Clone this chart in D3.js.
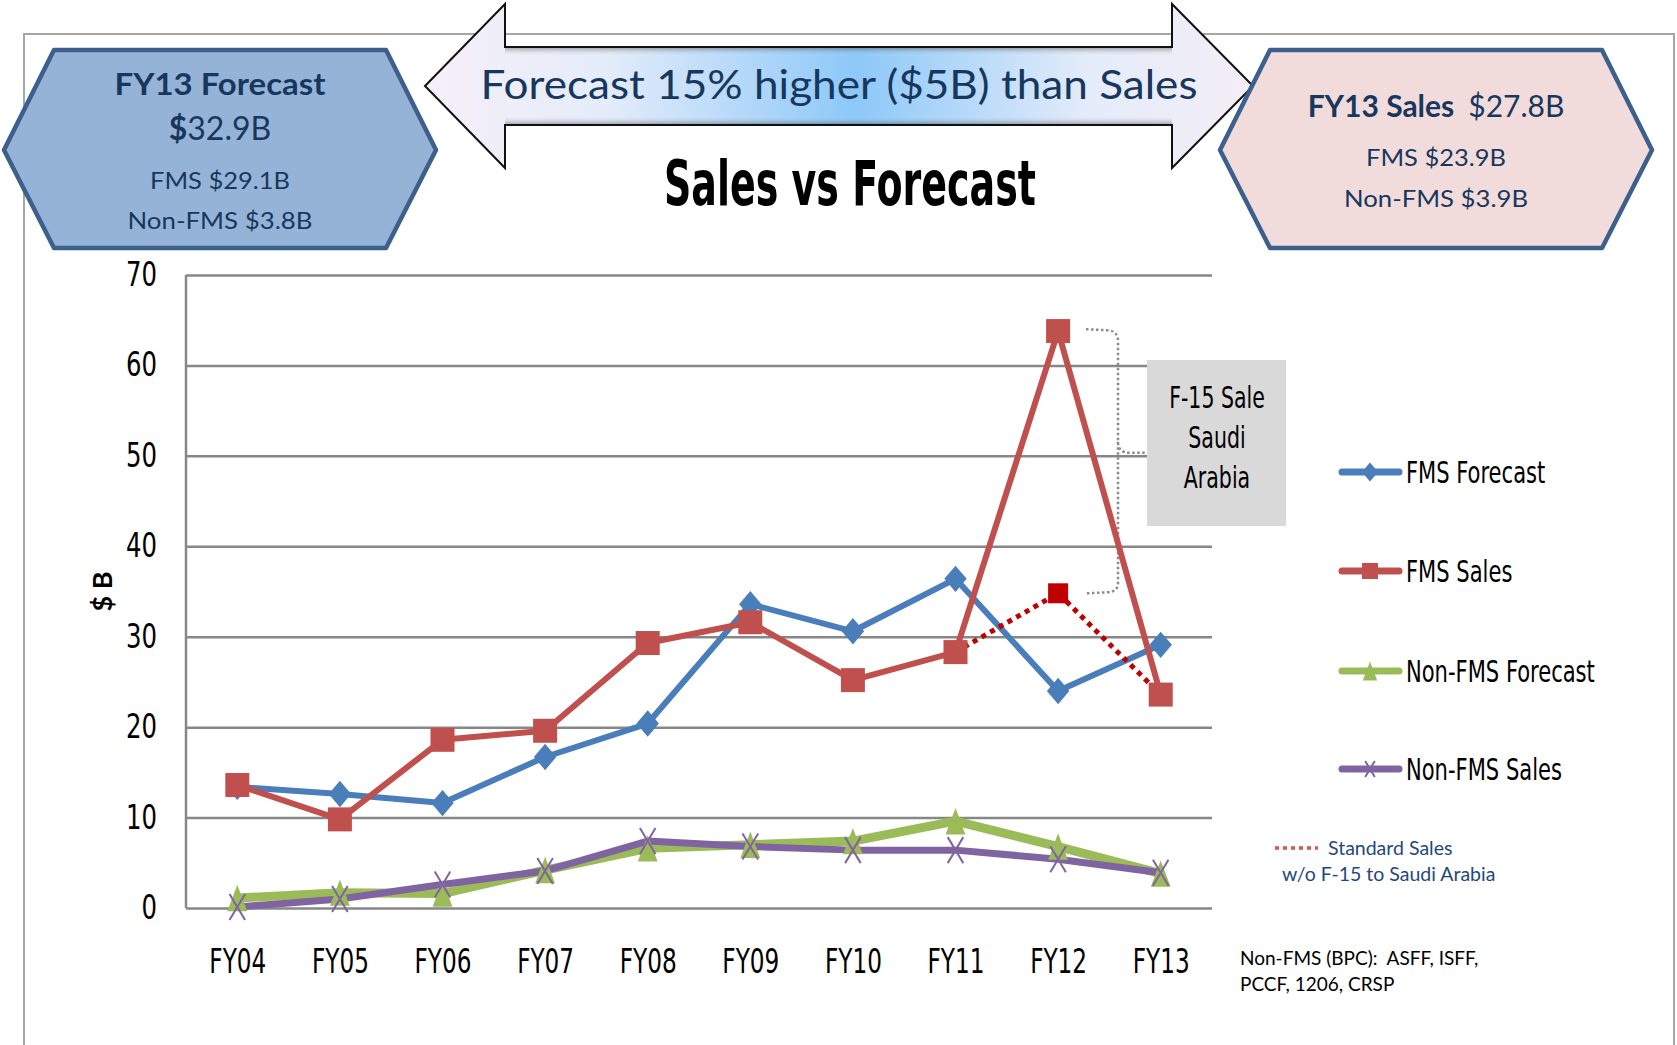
<!DOCTYPE html>
<html>
<head>
<meta charset="utf-8">
<script src="https://cdn.jsdelivr.net/npm/d3@7"></script>
<style>
  body { margin: 0; background: #fff; }
  svg { display: block; }
</style>
</head>
<body>
<div id="chart"></div>
<script>
// Chart data
const categories = ["FY04", "FY05", "FY06", "FY07", "FY08", "FY09", "FY10", "FY11", "FY12", "FY13"];
const fmsForecast = [13.4, 12.6, 11.6, 16.7, 20.4, 33.6, 30.6, 36.4, 24.0, 29.1];
const fmsSales = [13.6, 9.8, 18.6, 19.6, 29.3, 31.6, 25.2, 28.3, 63.8, 23.6];
const nonFmsForecast = [1.1, 1.7, 1.6, 4.2, 6.6, 7.0, 7.4, 9.6, 6.8, 3.8];
const nonFmsSales = [0.1, 1.0, 2.6, 4.1, 7.4, 6.8, 6.4, 6.4, 5.4, 3.9];
const standardCats = ["FY11", "FY12", "FY13"];
const standardSales = [28.3, 34.8, 23.6];
const yTicks = [0, 10, 20, 30, 40, 50, 60, 70];

const seriesNames = ["FMS Forecast", "FMS Sales", "Non-FMS Forecast", "Non-FMS Sales"];
const seriesValues = [fmsForecast, fmsSales, nonFmsForecast, nonFmsSales];
const seriesColors = ["#4a7ebb", "#c0504d", "#9bbb59", "#8064a2"];
const seriesSymbols = ["diamond", "square", "triangle", "cross"];

const NARROW = "'Liberation Sans Narrow', 'DejaVu Sans Condensed', sans-serif";
const SANS = "Lato, 'Open Sans', sans-serif";
const NAVY = "#17375e";

const W = 1677, H = 1045;
const svg = d3.select("#chart").append("svg")
  .attr("width", W)
  .attr("height", H);

// squeeze text horizontally to mimic the condensed slide font
function squeeze(sel, f) {
  sel.each(function() {
    const len = this.getComputedTextLength();
    d3.select(this).attr("textLength", len * f).attr("lengthAdjust", "spacingAndGlyphs");
  });
}

const defs = svg.append("defs");
const hGrad = defs.append("linearGradient").attr("id", "arrowFill")
  .attr("x1", "0").attr("x2", "1").attr("y1", "0").attr("y2", "0");
[["0%", "#f6f0f8"], ["22%", "#e4ecfa"], ["52%", "#8cc8f8"], ["80%", "#e4ecfa"], ["100%", "#f4eef6"]]
  .forEach(s => hGrad.append("stop").attr("offset", s[0]).attr("stop-color", s[1]));
const vGrad = defs.append("linearGradient").attr("id", "arrowBevel")
  .attr("x1", "0").attr("x2", "0").attr("y1", "0").attr("y2", "1");
[["0%", "#000", 0.35], ["12%", "#fff", 0.0], ["88%", "#fff", 0.0], ["100%", "#000", 0.35]]
  .forEach(s => vGrad.append("stop").attr("offset", s[0]).attr("stop-color", s[1]).attr("stop-opacity", s[2]));

// Outer frame
svg.append("path")
  .attr("d", `M24,${H} L24,34 L1674,34 L1674,${H}`)
  .attr("fill", "none")
  .attr("stroke", "#a6a6a6")
  .attr("stroke-width", 2);

// Double arrow
const arrowPts = [[425, 86], [505, 4], [505, 47], [1172, 47], [1172, 4], [1253, 86],
  [1172, 168], [1172, 125], [505, 125], [505, 168]];
svg.append("polygon")
  .attr("points", arrowPts.map(p => p.join(",")).join(" "))
  .attr("fill", "url(#arrowFill)")
  .attr("stroke", "#111")
  .attr("stroke-width", 2);
svg.append("rect")
  .attr("x", 505).attr("y", 47).attr("width", 667).attr("height", 78)
  .attr("fill", "url(#arrowBevel)");
svg.append("text")
  .attr("x", 839).attr("y", 99)
  .attr("text-anchor", "middle")
  .attr("font-family", SANS)
  .attr("font-size", 40)
  .attr("fill", NAVY)
  .attr("textLength", 717)
  .attr("lengthAdjust", "spacingAndGlyphs")
  .text("Forecast 15% higher ($5B) than Sales");

// Hexagon boxes
function hexagon(x0, x1, fill) {
  const pts = [[x0, 150], [x0 + 50, 50], [x1 - 50, 50], [x1, 150], [x1 - 50, 248], [x0 + 50, 248]];
  svg.append("polygon")
    .attr("points", pts.map(p => p.join(",")).join(" "))
    .attr("fill", fill)
    .attr("stroke", "#3c5f8c")
    .attr("stroke-width", 4.5)
    .attr("stroke-linejoin", "round");
}
hexagon(4, 436, "#95b3d7");
hexagon(1220, 1652, "#f2dcdb");

function label(x, y, size, weight, str, len) {
  const t = svg.append("text")
    .attr("x", x).attr("y", y)
    .attr("text-anchor", "middle")
    .attr("font-family", SANS)
    .attr("font-size", size)
    .attr("font-weight", weight)
    .attr("fill", NAVY)
    .text(str);
  if (len) t.attr("textLength", len).attr("lengthAdjust", "spacingAndGlyphs");
  return t;
}
label(220, 95, 30, "bold", "FY13 Forecast", 211);
const big = svg.append("text")
  .attr("x", 220).attr("y", 140)
  .attr("text-anchor", "middle")
  .attr("font-family", SANS)
  .attr("font-size", 32)
  .attr("fill", NAVY);
big.append("tspan").attr("font-weight", "bold").text("$");
big.append("tspan").text("32.9B");
label(220, 189, 23, "normal", "FMS $29.1B", 140);
label(220, 229, 23, "normal", "Non-FMS $3.8B", 185);

const salesHead = svg.append("text")
  .attr("x", 1436).attr("y", 117)
  .attr("text-anchor", "middle")
  .attr("font-family", SANS)
  .attr("font-size", 30)
  .attr("fill", NAVY);
salesHead.append("tspan").attr("font-weight", "bold").text("FY13 Sales");
salesHead.append("tspan").attr("dx", 14).text("$27.8B");
label(1436, 166, 23, "normal", "FMS $23.9B", 140);
label(1436, 207, 23, "normal", "Non-FMS $3.9B", 184);

// Title
svg.append("text")
  .attr("x", 850).attr("y", 205)
  .attr("text-anchor", "middle")
  .attr("font-family", NARROW)
  .attr("font-size", 62)
  .attr("font-weight", "bold")
  .attr("fill", "#000")
  .attr("textLength", 372)
  .attr("lengthAdjust", "spacingAndGlyphs")
  .text("Sales vs Forecast");

// Scales and axes
const x = d3.scalePoint().domain(categories).range([186, 1212]).padding(0.5);
const y = d3.scaleLinear().domain([0, 70]).range([908, 275]);

const yAxis = svg.append("g")
  .attr("transform", "translate(186,0)")
  .call(d3.axisLeft(y).tickValues(yTicks).tickSize(-1026).tickPadding(29));
yAxis.select(".domain").remove();
yAxis.selectAll(".tick line").attr("stroke", "#878787").attr("stroke-width", 2.5);
yAxis.selectAll(".tick text")
  .attr("font-family", NARROW)
  .attr("font-size", 33)
  .attr("fill", "#000")
  .call(squeeze, 0.82);

svg.append("line")
  .attr("x1", 186).attr("x2", 186)
  .attr("y1", y(70)).attr("y2", y(0))
  .attr("stroke", "#878787")
  .attr("stroke-width", 2.5);

const xAxis = svg.append("g")
  .attr("transform", "translate(0,908)")
  .call(d3.axisBottom(x).tickSize(0).tickPadding(42));
xAxis.select(".domain").remove();
xAxis.selectAll(".tick text")
  .attr("font-family", NARROW)
  .attr("font-size", 33)
  .attr("fill", "#000")
  .call(squeeze, 0.78);

svg.append("text")
  .attr("transform", `translate(112,${y(35)}) rotate(-90)`)
  .attr("text-anchor", "middle")
  .attr("font-family", SANS)
  .attr("font-size", 27)
  .attr("font-weight", "bold")
  .text("$ B");

// Brace and callout for the F-15 sale
svg.append("path")
  .attr("d", `M1086,${y(64)} L1108,${y(64) + 1} Q1118,${y(64) + 2} 1118,${y(64) + 12}
    L1118,${y(50) - 14} Q1118,${y(50) - 3} 1130,${y(50) - 3} L1147,${y(50) - 3}
    M1118,${y(50) - 14} Q1118,${y(50) - 1} 1118,${y(50) + 10}
    L1118,${y(34.8) - 10} Q1118,${y(34.8) - 2} 1108,${y(34.8) - 1} L1086,${y(34.8)}`)
  .attr("fill", "none")
  .attr("stroke", "#8c8c8c")
  .attr("stroke-width", 2.5)
  .attr("stroke-dasharray", "2.5,2.5");

svg.append("rect")
  .attr("x", 1147).attr("y", 360).attr("width", 139).attr("height", 166)
  .attr("fill", "#d9d9d9");
["F-15 Sale", "Saudi", "Arabia"].forEach((s, i) => {
  svg.append("text")
    .attr("x", 1217).attr("y", 408 + i * 40)
    .attr("text-anchor", "middle")
    .attr("font-family", NARROW)
    .attr("font-size", 30)
    .attr("fill", "#000")
    .text(s)
    .call(squeeze, 0.76);
});

// Series lines
const line = d3.line()
  .x((d, i) => x(categories[i]))
  .y(d => y(d));

const lineWidths = [6, 6, 9, 7];
[2, 3, 0, 1].forEach(k => {
  svg.append("path")
    .datum(seriesValues[k])
    .attr("d", line)
    .attr("fill", "none")
    .attr("stroke", seriesColors[k])
    .attr("stroke-width", lineWidths[k])
    .attr("stroke-linejoin", "round");
});

// Standard sales (without the F-15) dotted line
const stdLine = d3.line()
  .x((d, i) => x(standardCats[i]))
  .y(d => y(d));
svg.append("path")
  .datum(standardSales)
  .attr("d", stdLine)
  .attr("fill", "none")
  .attr("stroke", "#c00000")
  .attr("stroke-width", 5)
  .attr("stroke-dasharray", "5,5");

// Markers
function marker(g, type, cx, cy, color, size) {
  if (type === "diamond") {
    const r = size * 0.6;
    g.append("path")
      .attr("d", `M${cx},${cy - r} L${cx + r * 0.85},${cy} L${cx},${cy + r} L${cx - r * 0.85},${cy} Z`)
      .attr("fill", color);
  } else if (type === "square") {
    g.append("rect")
      .attr("x", cx - size / 2).attr("y", cy - size / 2)
      .attr("width", size).attr("height", size)
      .attr("fill", color);
  } else if (type === "triangle") {
    const r = size * 0.6;
    g.append("path")
      .attr("d", `M${cx},${cy - r} L${cx + r * 0.75},${cy + r} L${cx - r * 0.75},${cy + r} Z`)
      .attr("fill", color);
  } else {
    const r = size * 0.3;
    g.append("path")
      .attr("d", `M${cx - r},${cy - size / 2} L${cx + r},${cy + size / 2} M${cx + r},${cy - size / 2} L${cx - r},${cy + size / 2}`)
      .attr("stroke", color)
      .attr("stroke-width", 2)
      .attr("fill", "none");
  }
}

const markerSizes = [22, 24, 22, 26];
[2, 3, 0, 1].forEach(k => {
  const g = svg.append("g");
  seriesValues[k].forEach((v, i) => {
    marker(g, seriesSymbols[k], x(categories[i]), y(v), seriesColors[k], markerSizes[k]);
  });
});

// FY12 standard sales marker
marker(svg.append("g"), "square", x("FY12"), y(standardSales[1]), "#c00000", 20);

// Legend
const legendY = [472, 571, 671, 769];
seriesNames.forEach((name, k) => {
  const g = svg.append("g");
  g.append("line")
    .attr("x1", 1342).attr("x2", 1399)
    .attr("y1", legendY[k]).attr("y2", legendY[k])
    .attr("stroke", seriesColors[k])
    .attr("stroke-width", 7)
    .attr("stroke-linecap", "round");
  marker(g, seriesSymbols[k], 1370, legendY[k], seriesColors[k], 16);
  g.append("text")
    .attr("x", 1406).attr("y", legendY[k] + 11)
    .attr("font-family", NARROW)
    .attr("font-size", 30)
    .attr("fill", "#000")
    .text(name)
    .call(squeeze, 0.78);
});

// Standard sales note
svg.append("line")
  .attr("x1", 1275).attr("x2", 1318)
  .attr("y1", 848).attr("y2", 848)
  .attr("stroke", "#d9534f")
  .attr("stroke-width", 3.5)
  .attr("stroke-dasharray", "4,4");
svg.append("text")
  .attr("x", 1328).attr("y", 855)
  .attr("font-family", SANS)
  .attr("font-size", 19.5)
  .attr("fill", "#1f497d")
  .text("Standard Sales");
svg.append("text")
  .attr("x", 1282).attr("y", 881)
  .attr("font-family", SANS)
  .attr("font-size", 19.5)
  .attr("fill", "#1f497d")
  .text("w/o F-15 to Saudi Arabia");

// Footnote
svg.append("text")
  .attr("x", 1240).attr("y", 965)
  .attr("font-family", SANS)
  .attr("font-size", 19)
  .attr("fill", "#000")
  .text("Non-FMS (BPC):\u00a0 ASFF, ISFF,");
svg.append("text")
  .attr("x", 1240).attr("y", 991)
  .attr("font-family", SANS)
  .attr("font-size", 19)
  .attr("fill", "#000")
  .text("PCCF, 1206, CRSP");
</script>
</body>
</html>
